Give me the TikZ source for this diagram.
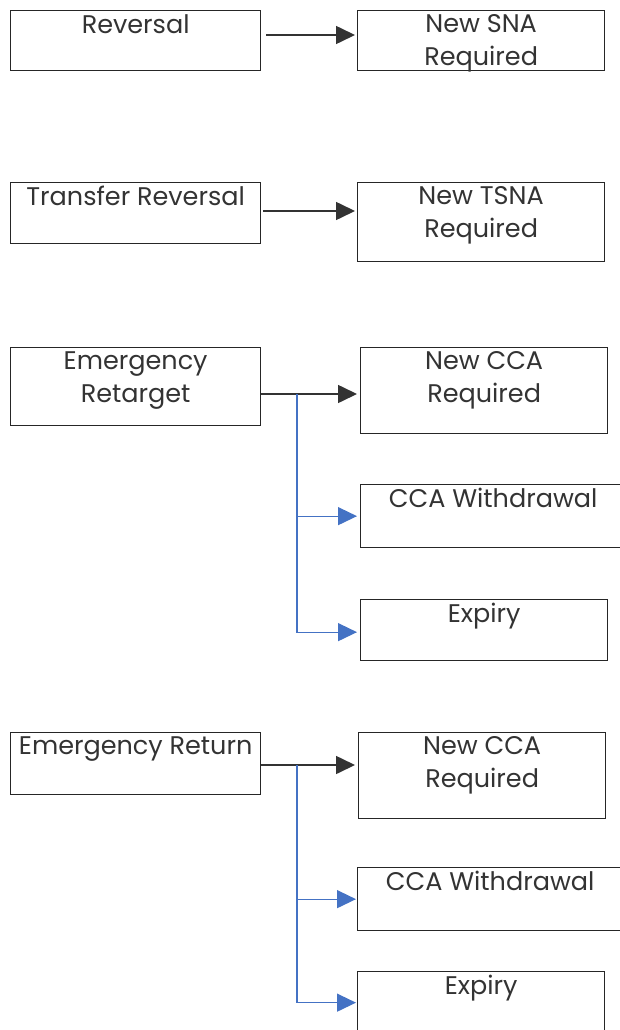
\documentclass[tikz,border=0pt]{standalone}
\usepackage{fontspec}
\setmainfont{Poppins}
\usetikzlibrary{arrows.meta,positioning,calc}

\definecolor{linkblue}{HTML}{4472C4}

\tikzset{
  box/.style={draw=black!85,line width=1.3pt,anchor=north west,inner sep=0pt},
  lbl/.style={anchor=north,align=center,inner sep=0pt,
    font=\fontsize{25.5}{33}\selectfont,text=black!80},
  mainarr/.style={draw=black!80,line width=1.6pt,-{Triangle[length=19pt,width=18pt]}},
  sidearr/.style={draw=linkblue,line width=1.3pt,-{Triangle[length=19pt,width=18pt]}},
}

\begin{document}
\begin{tikzpicture}[x=1pt,y=-1pt]
\useasboundingbox (0,0) rectangle (619,1030);
% Reversal
\node[box,minimum width=250,minimum height=60] (rev) at (10,10) {};
\node[box,minimum width=247,minimum height=60] (sna) at (357,10) {};
\node[lbl] (revt) at ($(rev.north)+(0,4)$) {Reversal};
\node[lbl] (snat) at ($(sna.north)+(0,4)$) {New SNA\\Required};
\draw[mainarr] ($(rev.north east)+(5,25)$) -- ($(sna.north west)+(-2,25)$);
% Transfer Reversal
\node[box,minimum width=250,minimum height=61] (trv) at (10,182) {};
\node[box,minimum width=247,minimum height=79] (tsna) at (357,182) {};
\node[lbl] (trvt) at ($(trv.north)+(0,4)$) {Transfer Reversal};
\node[lbl] (tsnat) at ($(tsna.north)+(0,4)$) {New TSNA\\Required};
\draw[mainarr] ($(trv.north east)+(2,29)$) -- ($(tsna.north west)+(-2,29)$);
% Emergency Retarget
\node[box,minimum width=250,minimum height=78] (ert) at (10,347) {};
\node[box,minimum width=247,minimum height=86] (ncr) at (360,347) {};
\node[box,minimum width=265,minimum height=63] (cwr) at (360,484) {};
\node[box,minimum width=247,minimum height=61] (exr) at (360,599) {};
\node[lbl] (ertt) at ($(ert.north)+(0,4)$) {Emergency\\Retarget};
\node[lbl] (ncrt) at ($(ncr.north)+(0,4)$) {New CCA\\Required};
\node[lbl] (cwrt) at ($(cwr.north)+(0,4)$) {CCA Withdrawal};
\node[lbl] (exrt) at ($(exr.north)+(0,4)$) {Expiry};
\coordinate (jrt) at (297,394);
\draw[mainarr] (ert.east |- jrt) -- ($(ncr.west |- jrt)+(-3,0)$);
\draw[sidearr] (jrt) |- ($(cwr.west)+(-3,0)$);
\draw[sidearr] (jrt) |- ($(exr.west)+(-3,2)$);
% Emergency Return
\node[box,minimum width=250,minimum height=62] (ern) at (10,732) {};
\node[box,minimum width=247,minimum height=86] (ncn) at (358,732) {};
\node[box,minimum width=265,minimum height=63] (cwn) at (357,867) {};
\node[box,minimum width=247,minimum height=62] (exn) at (357,971) {};
\node[lbl] (ernt) at ($(ern.north)+(0,4)$) {Emergency Return};
\node[lbl] (ncnt) at ($(ncn.north)+(0,4)$) {New CCA\\Required};
\node[lbl] (cwnt) at ($(cwn.north)+(0,4)$) {CCA Withdrawal};
\node[lbl] (exnt) at ($(exn.north)+(0,4)$) {Expiry};
\coordinate (jrn) at (297,765);
\draw[mainarr] (ern.east |- jrn) -- ($(ncn.west |- jrn)+(-3,0)$);
\draw[sidearr] (jrn) |- ($(cwn.west)+(-1,0)$);
\draw[sidearr] (jrn) |- ($(exn.west)+(-1,0)$);
\end{tikzpicture}
\end{document}
